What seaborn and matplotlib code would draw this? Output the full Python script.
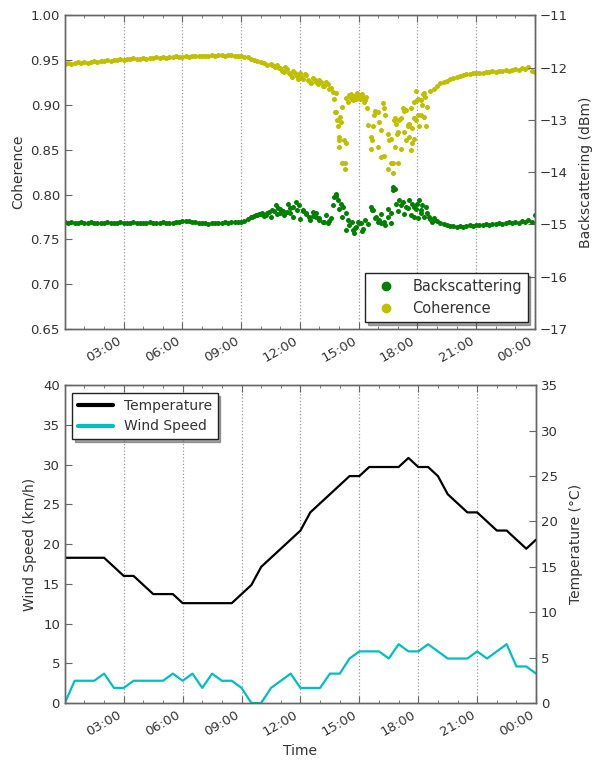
import numpy as np
import pandas as pd
import matplotlib
matplotlib.use("Agg")
import matplotlib.pyplot as plt
from matplotlib.lines import Line2D
from matplotlib.ticker import MultipleLocator, FuncFormatter
import seaborn as sns

# ---------------- data ----------------
# radar samples every 10 minutes, 00:00 -> 24:00
coh_base = [
    0.946, 0.947, 0.946, 0.947, 0.948, 0.947,
    0.948, 0.947, 0.948, 0.949, 0.948, 0.949,
    0.949, 0.950, 0.949, 0.950, 0.950, 0.951,
    0.950, 0.951, 0.951, 0.952, 0.951, 0.951,
    0.952, 0.951, 0.952, 0.952, 0.953, 0.952,
    0.953, 0.952, 0.953, 0.953, 0.954, 0.953,
    0.953, 0.954, 0.953, 0.954, 0.954, 0.955,
    0.954, 0.955, 0.955, 0.956, 0.955, 0.956,
    0.956, 0.955, 0.956, 0.956, 0.955, 0.955,
    0.954, 0.953, 0.953, 0.951, 0.950, 0.949,
    0.948, 0.947, 0.945, 0.946, 0.943, 0.944,
    0.941, 0.937, 0.940, 0.934, 0.938, 0.932,
    0.935, 0.929, 0.933, 0.926, 0.930, 0.925,
    0.928, 0.921, 0.925, 0.918, 0.914, 0.892,
    0.861, 0.835, 0.908, 0.911, 0.906, 0.910,
    0.909, 0.912, 0.905, 0.878, 0.861, 0.893,
    0.853, 0.872, 0.889, 0.829, 0.862, 0.885,
    0.870, 0.851, 0.893, 0.878, 0.896, 0.862,
    0.905, 0.889, 0.913, 0.898, 0.915, 0.918,
    0.921, 0.924, 0.926, 0.927, 0.929, 0.930,
    0.931, 0.932, 0.933, 0.934, 0.934, 0.935,
    0.936, 0.935, 0.936, 0.937, 0.937, 0.938,
    0.937, 0.938, 0.938, 0.939, 0.938, 0.939,
    0.940, 0.939, 0.941, 0.940, 0.942, 0.938,
    0.937,
]
bsc_base = [
    -14.95, -14.97, -14.96, -14.98, -14.97, -14.96,
    -14.97, -14.98, -14.96, -14.97, -14.97, -14.98,
    -14.97, -14.96, -14.97, -14.98, -14.97, -14.96,
    -14.97, -14.98, -14.97, -14.96, -14.97, -14.98,
    -14.98, -14.97, -14.96, -14.97, -14.98, -14.97,
    -14.96, -14.97, -14.98, -14.97, -14.96, -14.95,
    -14.94, -14.93, -14.94, -14.95, -14.96, -14.97,
    -14.97, -14.98, -14.99, -14.98, -14.97, -14.98,
    -14.97, -14.96, -14.97, -14.96, -14.95, -14.96,
    -14.95, -14.93, -14.90, -14.86, -14.84, -14.82,
    -14.80, -14.84, -14.78, -14.86, -14.74, -14.80,
    -14.70, -14.82, -14.76, -14.68, -14.85, -14.72,
    -14.90, -14.74, -14.80, -14.92, -14.84, -14.78,
    -14.88, -14.95, -14.82, -14.93, -14.62, -14.45,
    -14.70, -14.85, -15.10, -15.02, -14.95, -15.06,
    -14.98, -15.12, -14.92, -15.00, -14.72, -14.88,
    -14.95, -14.80, -15.02, -14.70, -14.98, -14.32,
    -14.75, -14.62, -14.80, -14.68, -14.82, -14.66,
    -14.60, -14.72, -14.85, -14.78, -14.90, -14.88,
    -14.94, -14.98, -15.00, -15.02, -15.03, -15.03,
    -15.04, -15.03, -15.04, -15.03, -15.02, -15.03,
    -15.02, -15.01, -15.02, -15.00, -15.01, -14.99,
    -15.00, -14.98, -14.99, -14.97, -14.96, -14.98,
    -14.95, -14.97, -14.93, -14.96, -14.92, -14.95,
    -14.82,
]

# additional samples in the disturbed part of the day (hour, value)
coh_extra_t = [10.58, 10.75, 10.92, 11.08, 11.25, 11.42, 11.58, 11.75, 11.92, 12.08,
               12.25, 12.42, 12.58, 12.75, 12.92, 13.08, 13.25, 13.42, 13.58,
               13.76, 13.81, 13.85, 13.88, 13.93, 13.98, 14.02, 14.06, 14.10, 14.15,
               14.27, 14.30, 14.32, 14.36, 14.45, 14.55, 14.62, 14.70, 14.78, 14.86,
               14.92, 15.05, 15.12, 15.20, 15.28, 15.38, 15.45, 15.63, 15.65, 15.71,
               15.80, 15.97, 16.05, 16.14, 16.22, 16.28, 16.31, 16.48, 16.56, 16.64,
               16.73, 16.77, 16.82, 16.88, 16.90, 16.95, 16.99, 17.07, 17.16, 17.24,
               17.30, 17.41, 17.41, 17.50, 17.58, 17.58, 17.67, 17.75, 17.75, 17.84,
               17.84, 17.92, 17.92, 18.01, 18.01, 18.09, 18.18, 18.26, 18.30, 18.35,
               18.40, 18.43]
coh_extra_v = [0.945, 0.942, 0.941, 0.938, 0.942, 0.935, 0.931, 0.936, 0.929, 0.931,
               0.934, 0.928, 0.924, 0.928, 0.923, 0.925, 0.921, 0.923, 0.919,
               0.907, 0.892, 0.913, 0.883, 0.877, 0.864, 0.853, 0.887, 0.881, 0.898,
               0.861, 0.835, 0.829, 0.857, 0.903, 0.909, 0.912, 0.905, 0.910, 0.907,
               0.913, 0.906, 0.911, 0.908, 0.903, 0.909, 0.896, 0.864, 0.851, 0.876,
               0.889, 0.892, 0.881, 0.842, 0.902, 0.843, 0.896, 0.868, 0.861, 0.835,
               0.835, 0.824, 0.883, 0.853, 0.879, 0.868, 0.835, 0.883, 0.885, 0.896,
               0.870, 0.894, 0.861, 0.876, 0.879, 0.864, 0.850, 0.857, 0.874, 0.885,
               0.903, 0.883, 0.915, 0.889, 0.907, 0.877, 0.905, 0.900, 0.912, 0.887,
               0.909, 0.877]
bsc_extra_t = [9.58, 9.75, 9.92, 10.08, 10.25, 10.42, 10.58, 10.79, 10.87, 10.96,
               11.13, 11.38, 11.50, 11.64, 11.81, 11.98, 12.15, 12.32, 12.49, 12.66,
               12.83, 13.00, 13.25, 13.42, 13.58, 13.76, 13.85, 13.93, 14.10, 14.19,
               14.36, 14.44, 14.70, 14.78, 14.87, 14.95, 15.12, 15.21, 15.63, 15.71,
               15.88, 16.05, 16.14, 16.31, 16.48, 16.65, 16.73, 16.78, 16.90, 17.07,
               17.24, 17.41, 17.58, 17.75, 17.84, 17.92, 18.01, 18.09, 18.18, 18.26,
               18.43, 18.60, 18.75, 18.92]
bsc_extra_v = [-14.85, -14.82, -14.80, -14.78, -14.82, -14.76, -14.72, -14.62, -14.68, -14.79,
               -14.74, -14.60, -14.78, -14.66, -14.57, -14.63, -14.73, -14.79, -14.86, -14.76,
               -14.86, -14.92, -14.95, -14.98, -14.88, -14.47, -14.41, -14.54, -14.60, -14.66,
               -14.79, -14.92, -15.11, -15.17, -15.05, -14.95, -14.98, -15.08, -14.66, -14.73,
               -14.86, -14.92, -14.98, -14.95, -14.86, -14.79, -14.28, -14.35, -14.60, -14.54,
               -14.57, -14.66, -14.54, -14.60, -14.86, -14.70, -14.88, -14.54, -14.79, -14.62,
               -14.66, -14.85, -14.95, -14.92]

# half-hourly weather, 00:00 -> 24:00
temp_c = [16, 16, 16, 16, 16, 15, 14, 14, 13, 12, 12, 12, 11, 11, 11, 11, 11, 11,
          12, 13, 15, 16, 17, 18, 19, 21, 22, 23, 24, 25, 25, 26, 26, 26, 26, 27,
          26, 26, 25, 23, 22, 21, 21, 20, 19, 19, 18, 17, 18]
wind_kmh = [0, 2.8, 2.8, 2.8, 3.7, 1.9, 1.9, 2.8, 2.8, 2.8, 2.8, 3.7, 2.8, 3.7, 1.9,
            3.7, 2.8, 2.8, 1.9, 0, 0, 1.9, 2.8, 3.7, 1.9, 1.9, 1.9, 3.7, 3.7, 5.6,
            6.5, 6.5, 6.5, 5.6, 7.4, 6.5, 6.5, 7.4, 6.5, 5.6, 5.6, 5.6, 6.5, 5.6,
            6.5, 7.4, 4.6, 4.6, 3.7]

hour_ticks = [3, 6, 9, 12, 15, 18, 21, 24]

# ---------------- frames ----------------
base_hours = np.arange(len(coh_base)) / 6.0
df_coh = pd.DataFrame({"hour": np.concatenate([base_hours, coh_extra_t]),
                       "value": np.concatenate([coh_base, coh_extra_v])})
df_bsc = pd.DataFrame({"hour": np.concatenate([base_hours, bsc_extra_t]),
                       "value": np.concatenate([bsc_base, bsc_extra_v])})
weather_hours = np.arange(len(temp_c)) * 0.5
df_wx = pd.DataFrame({"hour": weather_hours, "temp": temp_c, "wind": wind_kmh})

GREEN, YELLOW, CYAN = "#008000", "#bfbf00", "#00bfbf"
TXT, SPINE = "#333333", "#666666"

sns.set_style("ticks", {"xtick.direction": "in", "ytick.direction": "in"})
plt.rcParams["font.family"] = ["DejaVu Sans"]
plt.rcParams.update({
    "font.size": 9.5, "text.color": TXT, "axes.labelcolor": TXT,
    "xtick.color": SPINE, "ytick.color": SPINE,
    "xtick.labelcolor": TXT, "ytick.labelcolor": TXT,
    "axes.edgecolor": SPINE, "axes.linewidth": 1.0,
})

fig = plt.figure(figsize=(5.95, 7.6), dpi=100)
ax1 = fig.add_axes([0.109, 0.567, 0.790, 0.413])
ax3 = fig.add_axes([0.109, 0.075, 0.792, 0.418])


def hhmm(x, pos):
    return f"{int(round(x)) % 24:02d}:00"


def style_time_axis(ax):
    ax.set_xlim(0, 24)
    ax.set_xticks(hour_ticks)
    ax.xaxis.set_minor_locator(MultipleLocator(1))
    ax.xaxis.set_major_formatter(FuncFormatter(hhmm))
    ax.tick_params(axis="x", which="both", direction="in", top=True, bottom=True)
    ax.tick_params(axis="x", which="major", length=5, labelsize=9.5, pad=4)
    ax.tick_params(axis="x", which="minor", length=2.5)
    for lab in ax.get_xticklabels():
        lab.set_rotation(30)
        lab.set_ha("right")
    ax.grid(axis="x", which="major", linestyle=":", color="#999999", linewidth=0.9)
    ax.set_axisbelow(True)


# ---------------- top: coherence / backscattering ----------------
sns.scatterplot(data=df_coh, x="hour", y="value", ax=ax1, color=YELLOW,
                s=13, linewidth=0, legend=False)
ax1.set_ylim(0.65, 1.00)
ax1.set_yticks(np.arange(0.65, 1.001, 0.05))
ax1.yaxis.set_major_formatter(FuncFormatter(lambda v, p: f"{v:.2f}"))
ax1.set_ylabel("Coherence", fontsize=10)
ax1.set_xlabel("")
ax1.tick_params(axis="y", length=5, labelsize=9.5, right=False)
style_time_axis(ax1)

ax2 = ax1.twinx()
sns.scatterplot(data=df_bsc, x="hour", y="value", ax=ax2, color=GREEN,
                s=13, linewidth=0, legend=False)
ax2.set_ylim(-17, -11)
ax2.set_yticks(range(-17, -10))
ax2.yaxis.set_major_formatter(FuncFormatter(lambda v, p: f"\u2212{abs(int(v))}"))
ax2.set_ylabel("Backscattering (dBm)", fontsize=10, labelpad=8)
ax2.tick_params(axis="y", direction="in", length=5, labelsize=9.5)
for sp in ax2.spines.values():
    sp.set_color(SPINE)

h_top = [Line2D([], [], ls="", marker="o", ms=6, color=GREEN, mec=GREEN),
         Line2D([], [], ls="", marker="o", ms=6, color=YELLOW, mec=YELLOW)]
leg = ax2.legend(h_top, ["Backscattering", "Coherence"], loc="lower right",
                 fontsize=10.5, fancybox=False, shadow=True, frameon=True,
                 handlelength=2.0, borderaxespad=0.5)
leg.get_frame().set_edgecolor("#222222")
leg.get_frame().set_linewidth(1.0)

# ---------------- bottom: wind / temperature ----------------
sns.lineplot(data=df_wx, x="hour", y="wind", ax=ax3, color=CYAN,
             linewidth=1.6, legend=False)
ax3.set_ylim(0, 40)
ax3.set_yticks(range(0, 41, 5))
ax3.set_ylabel("Wind Speed (km/h)", fontsize=10)
ax3.set_xlabel("Time", fontsize=10)
ax3.tick_params(axis="y", length=5, labelsize=9.5, right=False)
style_time_axis(ax3)

ax4 = ax3.twinx()
sns.lineplot(data=df_wx, x="hour", y="temp", ax=ax4, color="black",
             linewidth=1.6, legend=False)
ax4.set_ylim(0, 35)
ax4.set_yticks(range(0, 36, 5))
ax4.set_ylabel("Temperature (\u00b0C)", fontsize=10, labelpad=8)
ax4.tick_params(axis="y", direction="in", length=5, labelsize=9.5)
for sp in ax4.spines.values():
    sp.set_color(SPINE)

h_bot = [Line2D([], [], color="black", lw=3), Line2D([], [], color=CYAN, lw=3)]
leg2 = ax4.legend(h_bot, ["Temperature", "Wind Speed"], loc="upper left",
                  fontsize=10, fancybox=False, shadow=True, frameon=True,
                  handlelength=2.5, borderaxespad=0.55)
leg2.get_frame().set_edgecolor("#222222")
leg2.get_frame().set_linewidth(1.0)

fig.savefig("out.png", dpi=100, facecolor="white")
